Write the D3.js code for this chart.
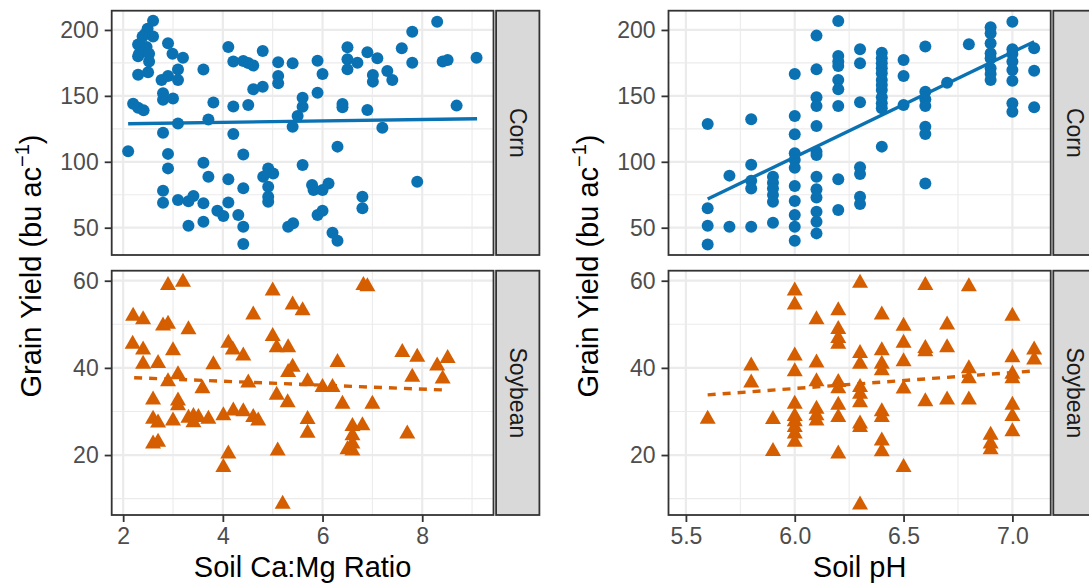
<!DOCTYPE html>
<html><head><meta charset="utf-8">
<script src="https://cdn.jsdelivr.net/npm/d3@7"></script>
<style>body{margin:0;background:#fff}svg{display:block;font-family:"Liberation Sans",Arial,Helvetica,sans-serif}</style>
</head><body><svg id="c" width="1089" height="583"></svg>
<script>
// ---------- DATA ----------
const crops = ["Corn", "Soybean"];
const xTitles = ["Soil Ca:Mg Ratio", "Soil pH"];

const caMgTicks = [2, 4, 6, 8];
const caMgMinor = [3, 5, 7, 9];
const phTicks = [5.5, 6.0, 6.5, 7.0];
const phMinor = [5.75, 6.25, 6.75];
const cornTicks = [50, 100, 150, 200];
const cornMinor = [75, 125, 175];
const soyTicks = [20, 40, 60];
const soyMinor = [10, 30, 50];

const caMgDomain = [1.77, 9.43];
const phDomain = [5.42, 7.176];
const cornDomain = [29.3, 214.6];
const soyDomain = [6.24, 62.3];

const cornCaMgRatio = [2.60,2.49,2.44,2.39,2.60,2.30,2.47,2.32,2.52,2.30,2.52,2.30,2.50,2.90,2.99,3.20,2.77,2.90,3.10,3.10,2.80,2.80,3.00,2.20,2.30,2.41,3.10,2.80,2.10,2.90,2.90,2.80,2.80,3.10,3.31,3.41,3.61,3.31,3.61,3.61,3.81,3.71,4.11,4.21,4.41,4.51,4.61,4.80,4.21,4.51,4.61,4.80,5.11,5.11,5.11,5.40,4.21,4.41,3.61,3.71,4.11,4.41,4.11,3.89,4.01,4.31,4.41,4.41,4.91,4.81,5.01,4.91,4.91,4.91,5.31,5.41,5.60,5.60,5.50,5.40,5.60,5.90,6.00,5.90,5.79,5.82,6.00,6.12,5.90,6.00,6.30,6.20,6.30,6.50,6.50,6.50,6.70,6.40,6.40,6.90,6.90,7.10,7.01,7.01,7.30,7.40,7.20,6.80,6.80,7.59,7.80,7.80,8.30,8.41,8.51,9.09,8.69,7.90];
const cornCaMgYield = [207,201,197,195,195,189,187,182,182,180,176,166,168,190,182,179,162,165,170,162,152,147,148,144,141,139,129,122,108,106,95,78,69,71,70,74,68.5,51.5,54.5,170,145,132,187,176,176.5,175,173,184,142,143,155,157,175.5,165,159.5,174.7,121,105.6,99.3,88.7,86.7,80,69.2,62.9,58.9,59.6,50.7,37.6,95,88.7,91.2,81,73.5,69.7,50.7,53.3,148.6,141.8,134.7,126.6,97.5,176.7,166.6,152.4,82.4,78.6,78.6,83.6,59.6,62.9,111.5,46.2,40.1,186.8,177.7,170.1,175.2,143.8,141.3,139.3,183,178.5,165.8,160.8,168.9,162,125.9,73.5,64.7,186.1,198.7,175.2,206.3,176,177.2,179,142.6,84.9];

const soyCaMgRatio = [2.90,3.20,5.00,5.40,5.60,6.82,6.90,2.20,2.40,2.80,2.90,3.31,4.61,2.19,2.40,3.00,2.40,2.70,3.81,3.10,2.90,3.59,4.11,4.20,4.41,4.51,5.00,5.08,5.31,5.40,5.31,5.70,6.00,6.20,6.30,5.08,5.30,6.40,7.00,2.60,3.10,3.10,2.60,2.70,3.00,3.31,3.41,3.51,3.41,3.71,4.01,4.21,4.41,4.61,4.71,5.70,5.70,6.60,6.80,6.60,6.60,6.50,6.60,2.60,2.70,7.70,4.11,4.01,5.10,5.20,7.60,7.90,8.30,8.51,8.41,7.80];
const soyCaMgYield = [59.5,60.2,58.2,55,53.7,59.5,59.2,52.4,51.6,50.2,50.6,49.3,52.7,46,44.7,44.5,41.4,41.6,41.3,39,37.4,35.8,46.2,44.7,43.3,37.1,47.8,45.2,45.2,40.7,39.5,37.4,36.1,36.1,41.8,34.3,32.6,32.2,32.2,33.2,33,31.9,28.8,27.9,28.4,29,29.4,29.2,28,28.8,29.6,30.7,30.5,29.2,28.4,28.7,25.6,27.1,27.3,25,23.1,21.8,21.5,23.1,23.5,25.4,20.8,17.7,21.5,9.3,44.1,43,41,42.7,38,38.4];

const cornPH = [5.6,5.6,5.6,5.6, 5.7,5.7, 5.8,5.8,5.8,5.8,5.8, 5.9,5.9,5.9,5.9,5.9,5.9, 6.0,6.0,6.0,6.0,6.0,6.0,6.0,6.0,6.0,6.0,6.0, 6.1,6.1,6.1,6.1,6.1,6.1,6.1,6.1,6.1,6.1,6.1,6.1,6.1, 6.2,6.2,6.2,6.2,6.2,6.2,6.2,6.2,6.2, 6.3,6.3,6.3,6.3,6.3,6.3,6.3, 6.4,6.4,6.4,6.4,6.4,6.4,6.4,6.4,6.4,6.4,6.4,6.4, 6.5,6.5,6.5, 6.6,6.6,6.6,6.6,6.6,6.6,6.6, 6.7, 6.8, 6.9,6.9,6.9,6.9,6.9,6.9,6.9,6.9, 7.0,7.0,7.0,7.0,7.0,7.0,7.0,7.0, 7.1,7.1,7.1];
const cornPHYield = [128.7,64.7,51.5,37.3, 89.5,50.7, 132.2,97.8,85.7,79.8,50.7, 88.7,84.1,79.8,74.8,69.7,53.8, 166.6,134.7,120.8,106.4,101.3,95.5,81.6,70.2,59.6,50.7,40.1, 195.7,170.1,148.9,142.3,127.1,107.7,105.1,88.7,79.1,73,62.1,54.5,45.7, 206.8,180.3,176,172.7,162,155,142.3,86.7,63.4, 185.3,174.7,145.1,95.8,90.7,73.5,67.9, 182.8,178.5,174.7,170.9,167.1,162.1,158.3,154.5,148.9,144.4,140.6,111.5, 177.2,165.1,143.1, 187.4,153.2,147.4,142.3,126.6,121.1,83.6, 160, 189.1, 202,197.5,189.9,182.3,178.5,170.9,166.6,162.1, 206.3,185.3,181.8,176,169.6,161.5,144.4,138, 186.1,169.1,141.3];

const soyPH = [5.6, 5.8,5.8, 5.9,5.9, 6.0,6.0,6.0,6.0,6.0,6.0,6.0,6.0,6.0,6.0, 6.1,6.1,6.1,6.1,6.1,6.1, 6.2,6.2,6.2,6.2,6.2,6.2,6.2,6.2,6.2, 6.3,6.3,6.3,6.3,6.3,6.3,6.3,6.3,6.3, 6.4,6.4,6.4,6.4,6.4,6.4,6.4,6.4, 6.5,6.5,6.5,6.5,6.5, 6.6,6.6,6.6,6.6, 6.7,6.7,6.7, 6.8,6.8,6.8,6.8, 6.9,6.9,6.9, 7.0,7.0,7.0,7.0,7.0,7.0,7.0, 7.1,7.1];
const soyPHYield = [28.8, 41,37.1, 28.7,21.4, 58.2,55,43.3,39.7,32.2,29.4,28.2,26.9,25.4,23.5, 51.6,41.7,37.4,31.1,29.6,28.4, 53.7,49.4,47.3,46,37.2,35.8,32,29.2,20.8, 60,43.9,41.4,36.1,34.5,32.6,27.7,26.9,9.1, 52.7,44.5,41.4,39.9,30.5,29.2,23.8,21.3, 50.1,46.2,42,35.7,17.7, 59.5,45,44.3,32.8, 50.4,45.2,33.2, 59.2,40.4,38.1,33.2, 25.1,23.1,21.8, 52.4,42.9,39.1,38.1,32,29.4,25.9, 44.7,42.4];

// fitted regression line end points
const cornCaMgFitX = [2.1, 9.1], cornCaMgFitY = [128.9, 132.7];
const soyCaMgFitX = [2.22, 8.49], soyCaMgFitY = [37.75, 34.9];
const cornPHFitX = [5.6, 7.1], cornPHFitY = [71.8, 191.1];
const soyPHFitX = [5.6, 7.1], soyPHFitY = [33.8, 39.3];

// ---------- LAYOUT ----------
const svg = d3.select("#c");
const cornColor = "#0A72B3", soyColor = "#D55E00";
const grid = "#EBEBEB", dark = "#333333";
const tickFont = 23, titleFont = 29;

const xScales = [
  d3.scaleLinear().domain(caMgDomain).range([111.7, 493.5]),
  d3.scaleLinear().domain(phDomain).range([668.5, 1050.7])
];
const yScales = [
  d3.scaleLinear().domain(cornDomain).range([255, 10.7]),
  d3.scaleLinear().domain(soyDomain).range([515, 270.7])
];
const xTickSets = [[caMgTicks, caMgMinor], [phTicks, phMinor]];
const yTickSets = [[cornTicks, cornMinor], [soyTicks, soyMinor]];
const xFmt = [d3.format("d"), d3.format(".1f")];

const panelData = [
  [[cornCaMgRatio, cornCaMgYield, cornCaMgFitX, cornCaMgFitY], [soyCaMgRatio, soyCaMgYield, soyCaMgFitX, soyCaMgFitY]],
  [[cornPH, cornPHYield, cornPHFitX, cornPHFitY], [soyPH, soyPHYield, soyPHFitX, soyPHFitY]]
];

const tri = "M0,-7L8,7L-8,7Z";

for (let c = 0; c < 2; c++) {
  const x = xScales[c];
  const [x0, x1] = x.range();
  for (let r = 0; r < 2; r++) {
    const y = yScales[r];
    const [yb, yt] = y.range();
    const g = svg.append("g");
    const cid = `clip${c}${r}`;
    svg.append("clipPath").attr("id", cid).append("rect")
      .attr("x", x0).attr("y", yt).attr("width", x1 - x0).attr("height", yb - yt);
    const inner = g.append("g").attr("clip-path", `url(#${cid})`);
    inner.selectAll(".vmin").data(xTickSets[c][1]).join("line")
      .attr("x1", d => x(d)).attr("x2", d => x(d)).attr("y1", yt).attr("y2", yb)
      .attr("stroke", grid).attr("stroke-width", 1.1);
    inner.selectAll(".hmin").data(yTickSets[r][1]).join("line")
      .attr("y1", d => y(d)).attr("y2", d => y(d)).attr("x1", x0).attr("x2", x1)
      .attr("stroke", grid).attr("stroke-width", 1.1);
    inner.selectAll(".vmaj").data(xTickSets[c][0]).join("line")
      .attr("x1", d => x(d)).attr("x2", d => x(d)).attr("y1", yt).attr("y2", yb)
      .attr("stroke", grid).attr("stroke-width", 2.2);
    inner.selectAll(".hmaj").data(yTickSets[r][0]).join("line")
      .attr("y1", d => y(d)).attr("y2", d => y(d)).attr("x1", x0).attr("x2", x1)
      .attr("stroke", grid).attr("stroke-width", 2.2);

    const [X, Y, FX, FY] = panelData[c][r];
    const pts = X.map((v, i) => [v, Y[i]]);
    if (r === 0) {
      inner.selectAll("circle").data(pts).join("circle")
        .attr("cx", d => x(d[0])).attr("cy", d => y(d[1])).attr("r", 6)
        .attr("fill", cornColor);
    } else {
      inner.selectAll("path.pt").data(pts).join("path").attr("class", "pt")
        .attr("d", tri).attr("transform", d => `translate(${x(d[0])},${y(d[1])})`)
        .attr("fill", soyColor);
    }
    const fit = FX.map((v, i) => [v, FY[i]]);
    inner.append("path").datum(fit)
      .attr("d", d3.line().x(d => x(d[0])).y(d => y(d[1])))
      .attr("fill", "none").attr("stroke", r === 0 ? cornColor : soyColor)
      .attr("stroke-width", 3.4)
      .attr("stroke-dasharray", r === 0 ? null : "8,7");

    g.append("rect").attr("x", x0).attr("y", yt).attr("width", x1 - x0).attr("height", yb - yt)
      .attr("fill", "none").attr("stroke", dark).attr("stroke-width", 1.8);

    const sx = x1 + 2.6, sw = 43.3;
    g.append("rect").attr("x", sx).attr("y", yt).attr("width", sw).attr("height", yb - yt)
      .attr("fill", "#D9D9D9").attr("stroke", dark).attr("stroke-width", 1.8);
    g.append("text").attr("transform", `translate(${sx + sw / 2},${(yt + yb) / 2}) rotate(90)`)
      .attr("text-anchor", "middle").attr("dominant-baseline", "central")
      .attr("font-size", tickFont).attr("fill", "#1A1A1A").text(crops[r]);

    const ya = g.append("g").attr("transform", `translate(${x0},0)`)
      .call(d3.axisLeft(y).tickValues(yTickSets[r][0]).tickSize(7).tickPadding(6));
    ya.select(".domain").remove();
    ya.selectAll("line").attr("stroke", dark).attr("stroke-width", 1.8);
    ya.selectAll("text").attr("font-size", tickFont).attr("fill", "#4D4D4D");
    ya.attr("font-family", null);

    if (r === 1) {
      const xa = g.append("g").attr("transform", `translate(0,${yb})`)
        .call(d3.axisBottom(x).tickValues(xTickSets[c][0]).tickFormat(xFmt[c]).tickSize(7).tickPadding(6));
      xa.select(".domain").remove();
      xa.selectAll("line").attr("stroke", dark).attr("stroke-width", 1.8);
      xa.selectAll("text").attr("font-size", tickFont).attr("fill", "#4D4D4D");
      xa.attr("font-family", null);
    }
  }
  svg.append("text").attr("x", (x0 + x1) / 2).attr("y", 577)
    .attr("text-anchor", "middle").attr("font-size", titleFont).attr("fill", "#000")
    .text(xTitles[c]);
  const ytl = svg.append("text").attr("transform", `translate(${x0 - 71},266) rotate(-90)`)
    .attr("text-anchor", "middle").attr("font-size", titleFont).attr("fill", "#000");
  ytl.append("tspan").text("Grain Yield (bu ac");
  ytl.append("tspan").attr("font-size", 20).attr("dy", -12).text("−1");
  ytl.append("tspan").attr("dy", 12).text(")");
}
</script></body></html>
